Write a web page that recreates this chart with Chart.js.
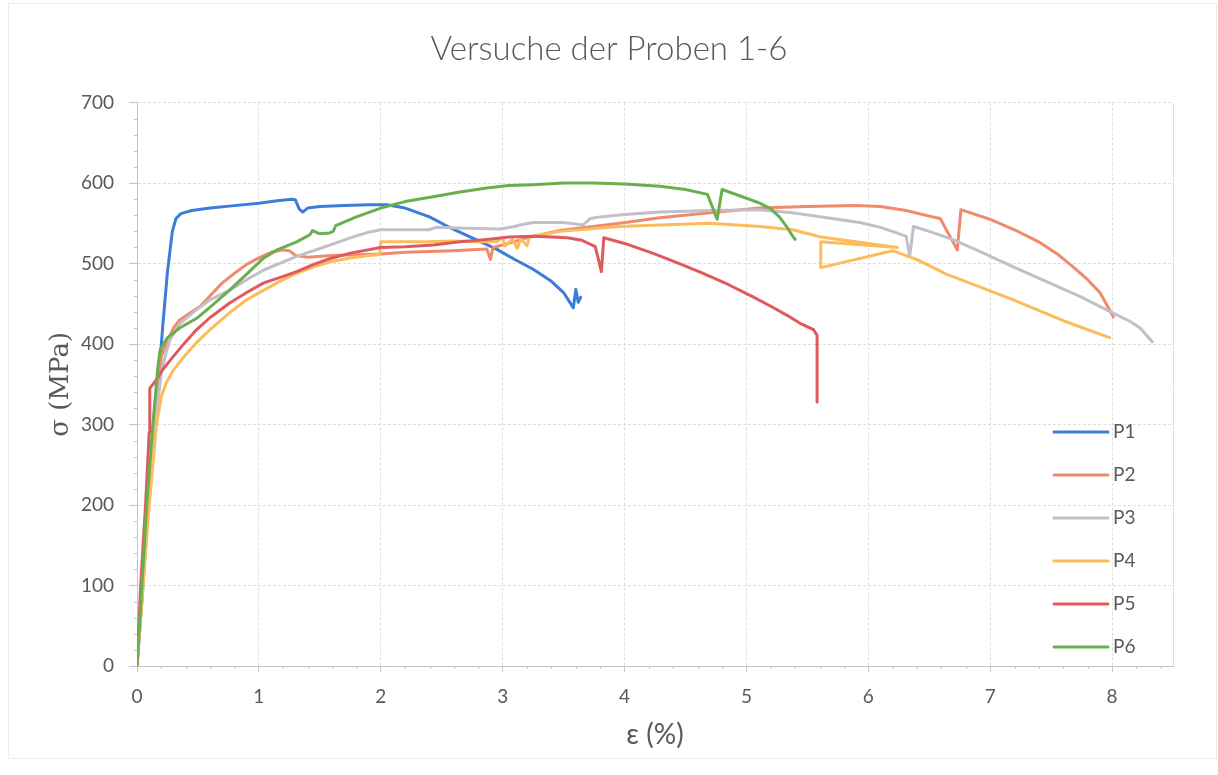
<!DOCTYPE html>
<html>
<head>
<meta charset="utf-8">
<title>Versuche der Proben 1-6</title>
<script src="https://cdn.jsdelivr.net/npm/chart.js@4.4.0/dist/chart.umd.min.js"></script>
<style>
  html, body { margin: 0; padding: 0; background: #ffffff; }
  #wrap { width: 1218px; height: 775px; }
</style>
</head>
<body>
<div id="wrap"><canvas id="chart" width="1218" height="775"></canvas></div>
<script>
// Spannungs-Dehnungs-Kurven der Proben P1 bis P6 (Dehnung in %, Spannung in MPa)
const seriesNames = ['P1', 'P2', 'P3', 'P4', 'P5', 'P6'];

const p1Strain = [0, 0.04, 0.09, 0.14, 0.18, 0.21, 0.25, 0.29, 0.32, 0.36, 0.45, 0.6, 0.8, 1.0, 1.15, 1.27, 1.3, 1.33, 1.36, 1.4, 1.5, 1.7, 1.9, 2.05, 2.2, 2.4, 2.55, 2.75, 2.95, 3.1, 3.25, 3.4, 3.5, 3.58, 3.6, 3.62, 3.64];
const p1Stress = [0, 80, 190, 290, 360, 420, 490, 540, 556, 562, 566, 569, 572, 575, 578, 580, 579, 568, 564, 569, 571, 572, 573, 573, 569, 558, 546, 532, 518, 505, 493, 478, 464, 445, 468, 452, 458];

const p2Strain = [0, 0.05, 0.1, 0.15, 0.2, 0.25, 0.3, 0.35, 0.45, 0.52, 0.6, 0.7, 0.8, 0.9, 1.0, 1.1, 1.2, 1.25, 1.3, 1.4, 1.6, 1.8, 2.0, 2.2, 2.4, 2.6, 2.87, 2.9, 2.92, 3.0, 3.2, 3.47, 3.96, 4.29, 4.7, 5.11, 5.5, 5.9, 6.1, 6.31, 6.5, 6.59, 6.73, 6.76, 7.0, 7.2, 7.41, 7.55, 7.68, 7.8, 7.9, 7.97, 8.01];
const p2Stress = [0, 110, 220, 320, 385, 403, 420, 430, 440, 447, 460, 476, 488, 499, 507, 514, 517, 516, 510, 508, 510, 511, 512, 514, 515, 516, 518, 505, 520, 523, 532, 541, 550, 557, 563, 569, 571, 572, 571, 566, 559, 556, 517, 567, 555, 542, 526, 512, 496, 480, 464, 445, 434];

const p3Strain = [0, 0.05, 0.1, 0.15, 0.2, 0.24, 0.27, 0.35, 0.49, 0.6, 0.76, 0.9, 1.04, 1.2, 1.31, 1.45, 1.58, 1.75, 1.9, 2.0, 2.2, 2.4, 2.45, 2.7, 2.98, 3.1, 3.14, 3.25, 3.5, 3.66, 3.72, 3.8, 4.0, 4.29, 4.7, 5.11, 5.38, 5.66, 5.93, 6.1, 6.31, 6.34, 6.37, 6.5, 6.69, 6.9, 7.19, 7.5, 7.74, 8.0, 8.15, 8.23, 8.33];
const p3Stress = [0, 110, 215, 300, 365, 390, 405, 425, 443, 455, 467, 480, 492, 502, 509, 516, 523, 532, 539, 542, 542, 542, 545, 544, 543, 546, 548, 551, 551, 548, 556, 558, 561, 564, 566, 567, 563, 557, 551, 545, 534, 509, 546, 540, 530, 516, 496, 475, 459, 439, 428, 420, 403];

const p4Strain = [0, 0.05, 0.1, 0.16, 0.2, 0.24, 0.3, 0.4, 0.49, 0.6, 0.76, 0.9, 1.04, 1.2, 1.31, 1.45, 1.58, 1.75, 1.9, 1.99, 2.0, 2.2, 2.4, 2.6, 2.8, 2.95, 3.0, 3.02, 3.08, 3.12, 3.15, 3.2, 3.22, 3.47, 3.96, 4.29, 4.7, 5.11, 5.38, 5.61, 5.9, 6.24, 5.61, 5.61, 6.2, 6.4, 6.64, 7.0, 7.19, 7.6, 7.98];
const p4Stress = [0, 100, 200, 300, 335, 352, 368, 387, 402, 418, 439, 455, 467, 480, 488, 496, 502, 507, 510, 511, 527, 527, 527, 528, 527, 527, 532, 522, 530, 519, 531, 522, 533, 540, 546, 548, 550, 546, 542, 533, 527, 520, 527, 495, 516, 505, 487, 466, 455, 429, 408];

const p5Strain = [0, 0.03, 0.07, 0.1, 0.105, 0.13, 0.17, 0.21, 0.3, 0.4, 0.49, 0.6, 0.76, 0.9, 1.04, 1.2, 1.31, 1.45, 1.58, 1.75, 2.0, 2.2, 2.43, 2.65, 2.87, 3.05, 3.25, 3.4, 3.53, 3.65, 3.76, 3.81, 3.83, 4.0, 4.23, 4.45, 4.64, 4.85, 5.05, 5.2, 5.33, 5.45, 5.55, 5.58, 5.58];
const p5Stress = [0, 100, 200, 290, 345, 350, 358, 368, 385, 403, 418, 433, 451, 464, 476, 484, 490, 499, 506, 513, 520, 521, 523, 527, 530, 533, 534, 533, 532, 529, 521, 490, 532, 525, 513, 500, 488, 474, 459, 447, 436, 425, 418, 411, 328];

const p6Strain = [0, 0.04, 0.08, 0.13, 0.17, 0.19, 0.25, 0.35, 0.49, 0.6, 0.76, 0.9, 1.04, 1.15, 1.31, 1.42, 1.44, 1.5, 1.58, 1.61, 1.63, 1.8, 2.0, 2.2, 2.43, 2.65, 2.87, 3.05, 3.25, 3.5, 3.74, 4.0, 4.29, 4.5, 4.68, 4.76, 4.8, 4.95, 5.11, 5.2, 5.27, 5.33, 5.38, 5.4];
const p6Stress = [0, 100, 200, 300, 370, 393, 408, 420, 432, 446, 467, 487, 507, 517, 527, 536, 541, 537, 538, 540, 547, 558, 569, 577, 583, 589, 594, 597, 598, 600, 600, 599, 596, 592, 586, 555, 592, 584, 575, 568, 558, 546, 534, 530];

const xTickMax = 8.5;
const yTickMax = 700;

const strains = [p1Strain, p2Strain, p3Strain, p4Strain, p5Strain, p6Strain];
const stresses = [p1Stress, p2Stress, p3Stress, p4Stress, p5Stress, p6Stress];
const lineColors = ['#3b7dd8', '#ef8a6c', '#c2bfcb', '#fbbd5b', '#df5a5d', '#6aaf4f'];

const textGray = '#595959';
const gridGray = '#dedede';
const axisGray = '#c4c4c4';

const datasets = seriesNames.map((name, i) => ({
  label: name,
  data: strains[i].map((x, k) => ({ x: x, y: stresses[i][k] })),
  borderColor: lineColors[i],
  backgroundColor: lineColors[i],
  borderWidth: 3,
  pointRadius: 0,
  showLine: true,
  fill: false,
  tension: 0,
  borderJoinStyle: 'round',
  borderCapStyle: 'round',
  order: seriesNames.length - 1 - i
}));

// Außenrahmen der Grafik
const frame = {
  id: 'frame',
  beforeDraw(chart) {
    const { ctx } = chart;
    ctx.save();
    ctx.strokeStyle = '#ececec';
    ctx.lineWidth = 1;
    ctx.strokeRect(8.5, 3.5, 1208, 755);
    ctx.restore();
  }
};

// Nebenteilstriche, rechter Rahmen und Legende innerhalb der Zeichenfläche
const decorations = {
  id: 'decorations',
  afterDraw(chart) {
    const { ctx, chartArea, scales } = chart;
    const xs = scales.x, ys = scales.y;
    ctx.save();
    ctx.strokeStyle = axisGray;
    ctx.lineWidth = 1;
    ctx.beginPath();
    for (let v = 0.2; v < xTickMax - 1e-6; v += 0.2) {
      if (Math.abs(v - Math.round(v)) < 1e-6) continue;
      const px = Math.round(xs.getPixelForValue(v)) + 0.5;
      ctx.moveTo(px, chartArea.bottom);
      ctx.lineTo(px, chartArea.bottom + 3);
    }
    for (let v = 20; v < yTickMax; v += 20) {
      if (v % 100 === 0) continue;
      const py = Math.round(ys.getPixelForValue(v)) + 0.5;
      ctx.moveTo(chartArea.left - 3, py);
      ctx.lineTo(chartArea.left, py);
    }
    ctx.stroke();

    ctx.strokeStyle = gridGray;
    ctx.beginPath();
    ctx.moveTo(Math.round(chartArea.right) + 0.5, chartArea.top);
    ctx.lineTo(Math.round(chartArea.right) + 0.5, chartArea.bottom);
    ctx.stroke();

    // Legende
    const lx0 = chartArea.right - 119;
    const lx1 = chartArea.right - 65;
    let ly = chartArea.bottom - 234;
    ctx.font = '19px Lato';
    ctx.textAlign = 'left';
    ctx.textBaseline = 'middle';
    chart.data.datasets.forEach(ds => {
      ctx.strokeStyle = ds.borderColor;
      ctx.lineWidth = 3;
      ctx.lineCap = 'round';
      ctx.beginPath();
      ctx.moveTo(lx0, ly);
      ctx.lineTo(lx1, ly);
      ctx.stroke();
      ctx.fillStyle = textGray;
      ctx.fillText(ds.label, lx1 + 5, ly);
      ly += 43;
    });
    ctx.restore();
  }
};

new Chart(document.getElementById('chart'), {
  type: 'scatter',
  data: { datasets: datasets },
  plugins: [frame, decorations],
  options: {
    responsive: false,
    animation: false,
    layout: { padding: 0 },
    plugins: {
      legend: { display: false },
      tooltip: { enabled: false },
      title: {
        display: true,
        text: 'Versuche der Proben 1-6',
        color: textGray,
        font: { family: 'Lato', size: 33, weight: '300', lineHeight: 1.2 },
        padding: { top: 30, bottom: 33 }
      }
    },
    scales: {
      x: {
        type: 'linear',
        min: 0,
        max: xTickMax,
        ticks: {
          stepSize: 1,
          includeBounds: false,
          color: textGray,
          font: { family: 'Lato', size: 19 },
          padding: 13
        },
        grid: { color: gridGray, tickColor: axisGray, tickLength: 6 },
        border: { color: axisGray, dash: [3, 2] },
        title: {
          display: true,
          text: 'ε (%)',
          color: textGray,
          font: { family: 'Lato', size: 28, lineHeight: 1.2 },
          padding: { top: 0, bottom: 23 }
        },
        afterFit(scale) { scale.height = 109; }
      },
      y: {
        type: 'linear',
        min: 0,
        max: yTickMax,
        ticks: {
          stepSize: 100,
          color: textGray,
          font: { family: 'Lato', size: 19 },
          padding: 15
        },
        grid: { color: gridGray, tickColor: axisGray, tickLength: 8 },
        border: { color: axisGray, dash: [3, 2] },
        title: {
          display: true,
          text: 'σ (MPa)',
          color: textGray,
          font: { family: 'DejaVu Serif', size: 26, lineHeight: 1.2 },
          padding: { top: 46, bottom: 0 }
        },
        afterFit(scale) { scale.width = 137; }
      },
      // leerer Randstreifen rechts neben der Zeichenfläche
      yRight: {
        type: 'linear',
        position: 'right',
        display: true,
        min: 0,
        max: yTickMax,
        grid: { display: false, drawTicks: false },
        border: { display: false },
        ticks: { display: false },
        afterFit(scale) { scale.width = 45; }
      }
    }
  }
});
</script>
</body>
</html>
